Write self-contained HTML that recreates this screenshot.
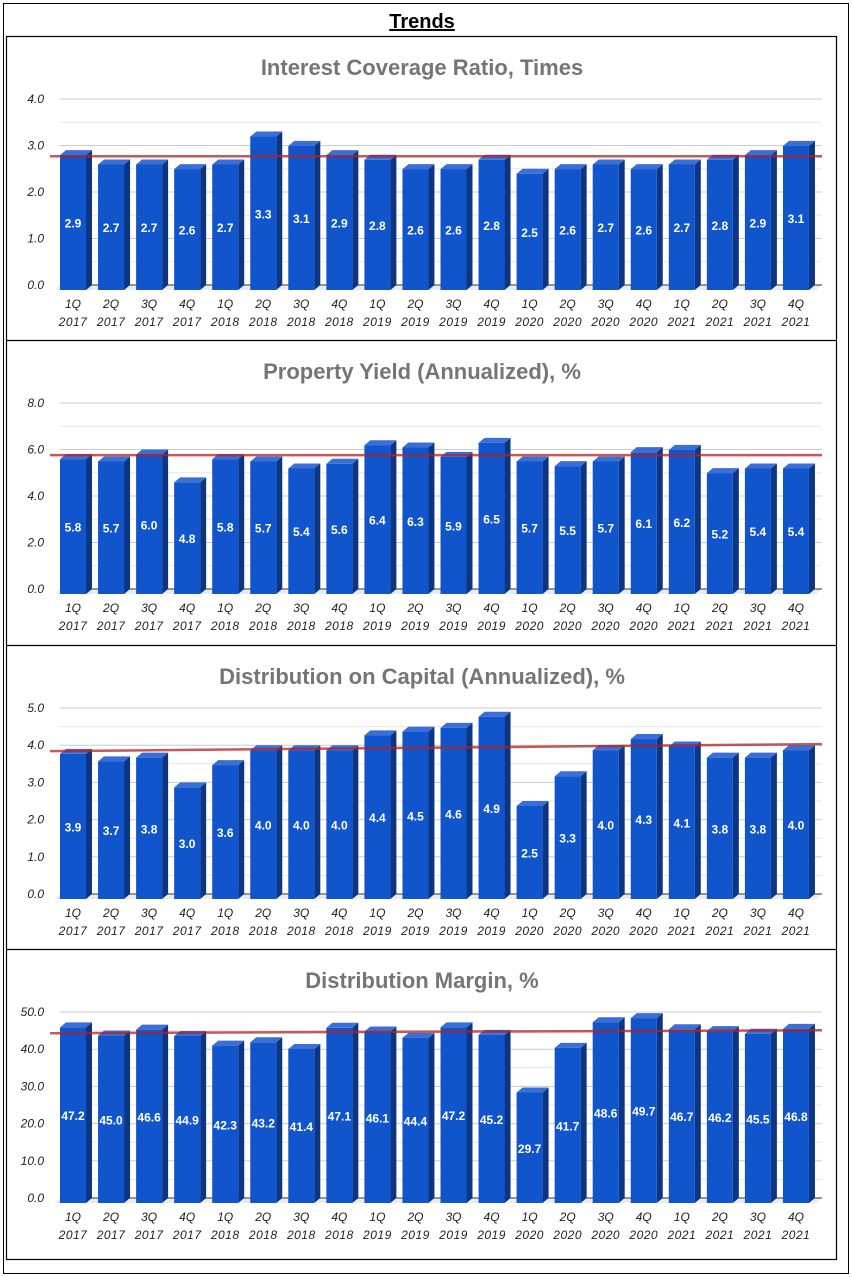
<!DOCTYPE html>
<html><head><meta charset="utf-8"><style>
html,body{margin:0;padding:0;background:#fff;}
svg{display:block;font-family:"Liberation Sans",Arial,sans-serif;}
</style></head><body>
<svg id="root" width="852" height="1277" viewBox="0 0 852 1277">
<rect x="3.5" y="3.5" width="845" height="1270" fill="none" stroke="#000" stroke-width="1"/>
<text x="422" y="28" text-anchor="middle" font-size="20" font-weight="bold" text-decoration="underline" fill="#000">Trends</text>
<rect x="6.5" y="36.5" width="830" height="1223" fill="none" stroke="#000" stroke-width="1.2"/>
<g id="charts"></g>
</svg>
<script>
const categories = ["1Q 2017","2Q 2017","3Q 2017","4Q 2017","1Q 2018","2Q 2018","3Q 2018","4Q 2018","1Q 2019","2Q 2019","3Q 2019","4Q 2019","1Q 2020","2Q 2020","3Q 2020","4Q 2020","1Q 2021","2Q 2021","3Q 2021","4Q 2021"];
const titles = ["Interest Coverage Ratio, Times","Property Yield (Annualized), %","Distribution on Capital (Annualized), %","Distribution Margin, %"];
const icrValues = [2.9,2.7,2.7,2.6,2.7,3.3,3.1,2.9,2.8,2.6,2.6,2.8,2.5,2.6,2.7,2.6,2.7,2.8,2.9,3.1];
const yieldValues = [5.8,5.7,6.0,4.8,5.8,5.7,5.4,5.6,6.4,6.3,5.9,6.5,5.7,5.5,5.7,6.1,6.2,5.2,5.4,5.4];
const docValues = [3.9,3.7,3.8,3.0,3.6,4.0,4.0,4.0,4.4,4.5,4.6,4.9,2.5,3.3,4.0,4.3,4.1,3.8,3.8,4.0];
const marginValues = [47.2,45.0,46.6,44.9,42.3,43.2,41.4,47.1,46.1,44.4,47.2,45.2,29.7,41.7,48.6,49.7,46.7,46.2,45.5,46.8];
const yMaxes = [4,8,5,50];
const tickSteps = [1,2,1,10];
const trendStart = [2.77,5.76,3.84,44.3];
const trendEnd = [2.77,5.76,4.03,45.1];
const series = [icrValues, yieldValues, docValues, marginValues];
const names = ["interest-coverage","property-yield","distribution-on-capital","distribution-margin"];

const NS = "http://www.w3.org/2000/svg";
function mk(tag, attrs, parent){const e=document.createElementNS(NS,tag);for(const k in attrs)e.setAttribute(k,attrs[k]);parent.appendChild(e);return e;}
const root = document.getElementById('charts');
const offsets=[0,304,609,913];
const X0=60, STEP=38.05, BW=26, DX=6, DY=5, GX1=60, GX2=822;

series.forEach((vals, ci)=>{
  const oy=offsets[ci];
  const g=mk('g',{},root);
  
  
  if(ci>0){
    const sep=mk('line',{x1:6,x2:837,y1:36+oy+0.5,y2:36+oy+0.5,stroke:'#000','stroke-width':1.2},g);
    
    
  }
  const t=mk('text',{x:422,y:75+oy,'text-anchor':'middle','font-size':22,'font-weight':'bold',fill:'#757575'},g);
  t.textContent=titles[ci];
  
  
  const top=99+oy, base=285+oy;
  const yMax=yMaxes[ci];
  const ys=v=>base-(v/yMax)*(base-top);
  const xs=i=>X0+i*STEP;
  const fl=mk('polygon',{points:`${GX1-6},${base+DY} ${GX1},${base} ${GX2},${base} ${GX2-6},${base+DY}`,fill:'#ebebeb'},g);
  
  
  const st=tickSteps[ci];
  for(let v=0; v<=yMax+1e-9; v+=st/2){
    const major=Math.abs(v/st-Math.round(v/st))<1e-6;
    const y=ys(v);
    if(v>0){
      const gl=mk('line',{x1:GX1,x2:GX2,y1:y,y2:y,stroke:major?'#cccccc':'#e6e6e6','stroke-width':1},g);
      
      
    }
    if(major){
      const tl=mk('text',{x:44,y:y+4,'text-anchor':'end','font-size':12,'font-style':'italic',fill:'#222'},g);
      tl.textContent=v.toFixed(1);
      
      
    }
  }
  const bl=mk('line',{x1:GX1,x2:GX2,y1:base,y2:base,stroke:'#333','stroke-width':1},g);
  
  
  vals.forEach((v,i)=>{
    const x=xs(i), yb=ys(v);
    const fTop=yb+DY, fBot=base+DY;
    const bg=mk('g',{},g);
    
    
    mk('polygon',{points:`${x+BW},${fTop} ${x+BW+DX},${yb} ${x+BW+DX},${base} ${x+BW},${fBot}`,fill:'#0c3583'},bg);
    mk('polygon',{points:`${x},${fTop} ${x+DX},${yb} ${x+BW+DX},${yb} ${x+BW},${fTop}`,fill:'#3a6fd8'},bg);
    mk('rect',{x:x,y:fTop,width:BW,height:fBot-fTop,fill:'#1155cc'},bg);
    const lb=mk('text',{x:x+BW/2,y:(fTop+fBot)/2+5,'text-anchor':'middle','font-size':12,'font-weight':'bold',fill:'#fff'},bg);
    lb.textContent=v.toFixed(1);
    
    
    const parts=categories[i].split(' ');
    const c1=mk('text',{x:x+BW/2,y:base+23,'text-anchor':'middle','font-size':12,'font-style':'italic',fill:'#222'},g);
    c1.textContent=parts[0];
    
    
    const c2=mk('text',{x:x+BW/2,y:base+41,'text-anchor':'middle','font-size':12,'font-style':'italic',fill:'#222','letter-spacing':'0.5'},g);
    c2.textContent=parts[1];
    
    
  });
  const tr=mk('line',{x1:50,x2:GX2,y1:ys(trendStart[ci]),y2:ys(trendEnd[ci]),stroke:'#b22222','stroke-opacity':0.75,'stroke-width':2.5},g);
  
  
});
</script>
</body></html>
